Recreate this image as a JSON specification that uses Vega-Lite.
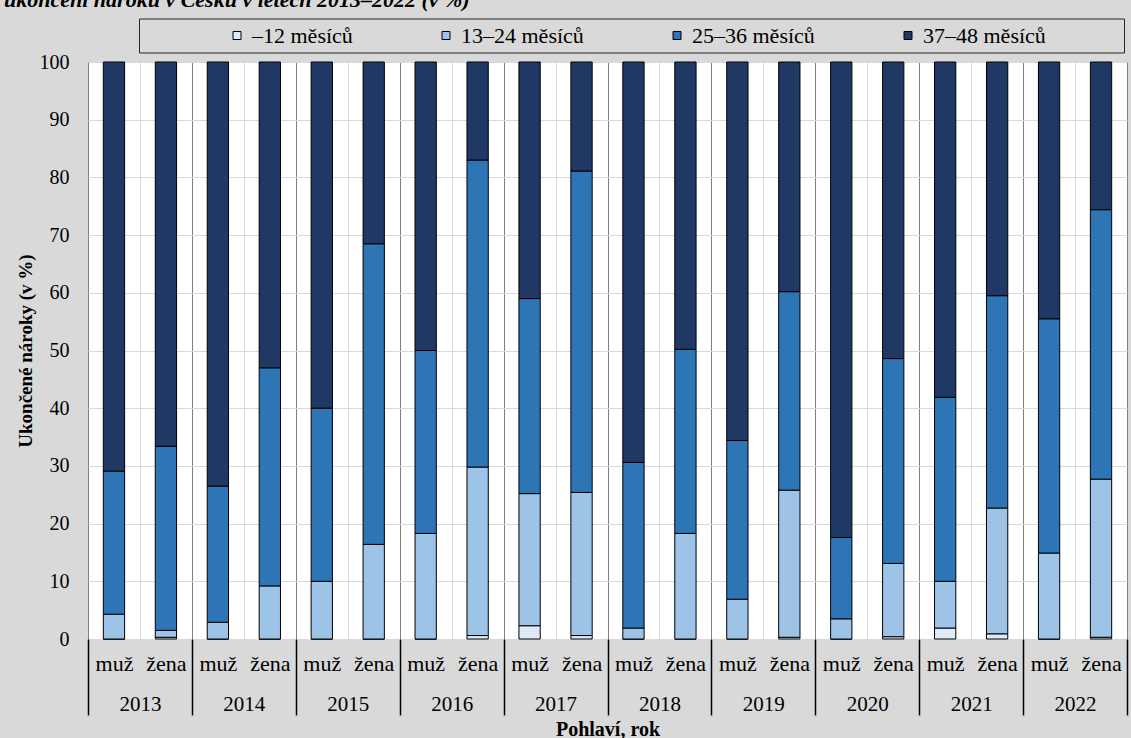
{
  "$schema": "https://vega.github.io/schema/vega-lite/v6.json",
  "width": 1131,
  "height": 738,
  "autosize": {"type": "fit", "contains": "padding"},
  "padding": {"left": 4, "top": -11, "right": 3, "bottom": -2},
  "background": "#d9d9d9",
  "title": {"text": "ukončení nároku v Česku v letech 2013–2022 (v %)", "anchor": "start", "fontSize": 22, "font": "Liberation Serif", "fontStyle": "italic", "fontWeight": "bold", "color": "black", "offset": 40, "dx": -12},
  "config": {
    "font": "Liberation Serif",
    "view": {"fill": "white", "stroke": "black", "strokeWidth": 1},
    "axis": {"labelColor": "black", "titleColor": "black", "labelFont": "Liberation Serif", "titleFont": "Liberation Serif"},
    "legend": {"labelFont": "Liberation Serif", "titleFont": "Liberation Serif"},
    "title": {"font": "Liberation Serif"}
  },
  "data": {"values": [
    {"year": "2013", "sex": "muž", "x": "2013 muž", "c": "–12 měsíců", "k": 1, "v": 0},
    {"year": "2013", "sex": "muž", "x": "2013 muž", "c": "13–24 měsíců", "k": 2, "v": 4.3},
    {"year": "2013", "sex": "muž", "x": "2013 muž", "c": "25–36 měsíců", "k": 3, "v": 24.8},
    {"year": "2013", "sex": "muž", "x": "2013 muž", "c": "37–48 měsíců", "k": 4, "v": 70.9},
    {"year": "2013", "sex": "žena", "x": "2013 žena", "c": "–12 měsíců", "k": 1, "v": 0.3},
    {"year": "2013", "sex": "žena", "x": "2013 žena", "c": "13–24 měsíců", "k": 2, "v": 1.2},
    {"year": "2013", "sex": "žena", "x": "2013 žena", "c": "25–36 měsíců", "k": 3, "v": 31.9},
    {"year": "2013", "sex": "žena", "x": "2013 žena", "c": "37–48 měsíců", "k": 4, "v": 66.6},
    {"year": "2014", "sex": "muž", "x": "2014 muž", "c": "–12 měsíců", "k": 1, "v": 0},
    {"year": "2014", "sex": "muž", "x": "2014 muž", "c": "13–24 měsíců", "k": 2, "v": 2.9},
    {"year": "2014", "sex": "muž", "x": "2014 muž", "c": "25–36 měsíců", "k": 3, "v": 23.6},
    {"year": "2014", "sex": "muž", "x": "2014 muž", "c": "37–48 měsíců", "k": 4, "v": 73.5},
    {"year": "2014", "sex": "žena", "x": "2014 žena", "c": "–12 měsíců", "k": 1, "v": 0},
    {"year": "2014", "sex": "žena", "x": "2014 žena", "c": "13–24 měsíců", "k": 2, "v": 9.2},
    {"year": "2014", "sex": "žena", "x": "2014 žena", "c": "25–36 měsíců", "k": 3, "v": 37.8},
    {"year": "2014", "sex": "žena", "x": "2014 žena", "c": "37–48 měsíců", "k": 4, "v": 53.0},
    {"year": "2015", "sex": "muž", "x": "2015 muž", "c": "–12 měsíců", "k": 1, "v": 0},
    {"year": "2015", "sex": "muž", "x": "2015 muž", "c": "13–24 měsíců", "k": 2, "v": 10.0},
    {"year": "2015", "sex": "muž", "x": "2015 muž", "c": "25–36 měsíců", "k": 3, "v": 30.0},
    {"year": "2015", "sex": "muž", "x": "2015 muž", "c": "37–48 měsíců", "k": 4, "v": 60.0},
    {"year": "2015", "sex": "žena", "x": "2015 žena", "c": "–12 měsíců", "k": 1, "v": 0},
    {"year": "2015", "sex": "žena", "x": "2015 žena", "c": "13–24 měsíců", "k": 2, "v": 16.4},
    {"year": "2015", "sex": "žena", "x": "2015 žena", "c": "25–36 měsíců", "k": 3, "v": 52.1},
    {"year": "2015", "sex": "žena", "x": "2015 žena", "c": "37–48 měsíců", "k": 4, "v": 31.5},
    {"year": "2016", "sex": "muž", "x": "2016 muž", "c": "–12 měsíců", "k": 1, "v": 0},
    {"year": "2016", "sex": "muž", "x": "2016 muž", "c": "13–24 měsíců", "k": 2, "v": 18.3},
    {"year": "2016", "sex": "muž", "x": "2016 muž", "c": "25–36 měsíců", "k": 3, "v": 31.7},
    {"year": "2016", "sex": "muž", "x": "2016 muž", "c": "37–48 měsíců", "k": 4, "v": 50.0},
    {"year": "2016", "sex": "žena", "x": "2016 žena", "c": "–12 měsíců", "k": 1, "v": 0.6},
    {"year": "2016", "sex": "žena", "x": "2016 žena", "c": "13–24 měsíců", "k": 2, "v": 29.2},
    {"year": "2016", "sex": "žena", "x": "2016 žena", "c": "25–36 měsíců", "k": 3, "v": 53.2},
    {"year": "2016", "sex": "žena", "x": "2016 žena", "c": "37–48 měsíců", "k": 4, "v": 17.0},
    {"year": "2017", "sex": "muž", "x": "2017 muž", "c": "–12 měsíců", "k": 1, "v": 2.3},
    {"year": "2017", "sex": "muž", "x": "2017 muž", "c": "13–24 měsíců", "k": 2, "v": 22.9},
    {"year": "2017", "sex": "muž", "x": "2017 muž", "c": "25–36 měsíců", "k": 3, "v": 33.8},
    {"year": "2017", "sex": "muž", "x": "2017 muž", "c": "37–48 měsíců", "k": 4, "v": 41.0},
    {"year": "2017", "sex": "žena", "x": "2017 žena", "c": "–12 měsíců", "k": 1, "v": 0.6},
    {"year": "2017", "sex": "žena", "x": "2017 žena", "c": "13–24 měsíců", "k": 2, "v": 24.8},
    {"year": "2017", "sex": "žena", "x": "2017 žena", "c": "25–36 měsíců", "k": 3, "v": 55.7},
    {"year": "2017", "sex": "žena", "x": "2017 žena", "c": "37–48 měsíců", "k": 4, "v": 18.9},
    {"year": "2018", "sex": "muž", "x": "2018 muž", "c": "–12 měsíců", "k": 1, "v": 0},
    {"year": "2018", "sex": "muž", "x": "2018 muž", "c": "13–24 měsíců", "k": 2, "v": 1.9},
    {"year": "2018", "sex": "muž", "x": "2018 muž", "c": "25–36 měsíců", "k": 3, "v": 28.7},
    {"year": "2018", "sex": "muž", "x": "2018 muž", "c": "37–48 měsíců", "k": 4, "v": 69.4},
    {"year": "2018", "sex": "žena", "x": "2018 žena", "c": "–12 měsíců", "k": 1, "v": 0},
    {"year": "2018", "sex": "žena", "x": "2018 žena", "c": "13–24 měsíců", "k": 2, "v": 18.3},
    {"year": "2018", "sex": "žena", "x": "2018 žena", "c": "25–36 měsíců", "k": 3, "v": 31.9},
    {"year": "2018", "sex": "žena", "x": "2018 žena", "c": "37–48 měsíců", "k": 4, "v": 49.8},
    {"year": "2019", "sex": "muž", "x": "2019 muž", "c": "–12 měsíců", "k": 1, "v": 0},
    {"year": "2019", "sex": "muž", "x": "2019 muž", "c": "13–24 měsíců", "k": 2, "v": 6.9},
    {"year": "2019", "sex": "muž", "x": "2019 muž", "c": "25–36 měsíců", "k": 3, "v": 27.5},
    {"year": "2019", "sex": "muž", "x": "2019 muž", "c": "37–48 měsíců", "k": 4, "v": 65.6},
    {"year": "2019", "sex": "žena", "x": "2019 žena", "c": "–12 měsíců", "k": 1, "v": 0.3},
    {"year": "2019", "sex": "žena", "x": "2019 žena", "c": "13–24 měsíců", "k": 2, "v": 25.5},
    {"year": "2019", "sex": "žena", "x": "2019 žena", "c": "25–36 měsíců", "k": 3, "v": 34.4},
    {"year": "2019", "sex": "žena", "x": "2019 žena", "c": "37–48 měsíců", "k": 4, "v": 39.8},
    {"year": "2020", "sex": "muž", "x": "2020 muž", "c": "–12 měsíců", "k": 1, "v": 0},
    {"year": "2020", "sex": "muž", "x": "2020 muž", "c": "13–24 měsíců", "k": 2, "v": 3.5},
    {"year": "2020", "sex": "muž", "x": "2020 muž", "c": "25–36 měsíců", "k": 3, "v": 14.1},
    {"year": "2020", "sex": "muž", "x": "2020 muž", "c": "37–48 měsíců", "k": 4, "v": 82.4},
    {"year": "2020", "sex": "žena", "x": "2020 žena", "c": "–12 měsíců", "k": 1, "v": 0.4},
    {"year": "2020", "sex": "žena", "x": "2020 žena", "c": "13–24 měsíců", "k": 2, "v": 12.7},
    {"year": "2020", "sex": "žena", "x": "2020 žena", "c": "25–36 měsíců", "k": 3, "v": 35.5},
    {"year": "2020", "sex": "žena", "x": "2020 žena", "c": "37–48 měsíců", "k": 4, "v": 51.4},
    {"year": "2021", "sex": "muž", "x": "2021 muž", "c": "–12 měsíců", "k": 1, "v": 1.9},
    {"year": "2021", "sex": "muž", "x": "2021 muž", "c": "13–24 měsíců", "k": 2, "v": 8.1},
    {"year": "2021", "sex": "muž", "x": "2021 muž", "c": "25–36 měsíců", "k": 3, "v": 31.9},
    {"year": "2021", "sex": "muž", "x": "2021 muž", "c": "37–48 měsíců", "k": 4, "v": 58.1},
    {"year": "2021", "sex": "žena", "x": "2021 žena", "c": "–12 měsíců", "k": 1, "v": 0.9},
    {"year": "2021", "sex": "žena", "x": "2021 žena", "c": "13–24 měsíců", "k": 2, "v": 21.8},
    {"year": "2021", "sex": "žena", "x": "2021 žena", "c": "25–36 měsíců", "k": 3, "v": 36.8},
    {"year": "2021", "sex": "žena", "x": "2021 žena", "c": "37–48 měsíců", "k": 4, "v": 40.5},
    {"year": "2022", "sex": "muž", "x": "2022 muž", "c": "–12 měsíců", "k": 1, "v": 0},
    {"year": "2022", "sex": "muž", "x": "2022 muž", "c": "13–24 měsíců", "k": 2, "v": 14.9},
    {"year": "2022", "sex": "muž", "x": "2022 muž", "c": "25–36 měsíců", "k": 3, "v": 40.6},
    {"year": "2022", "sex": "muž", "x": "2022 muž", "c": "37–48 měsíců", "k": 4, "v": 44.5},
    {"year": "2022", "sex": "žena", "x": "2022 žena", "c": "–12 měsíců", "k": 1, "v": 0.3},
    {"year": "2022", "sex": "žena", "x": "2022 žena", "c": "13–24 měsíců", "k": 2, "v": 27.4},
    {"year": "2022", "sex": "žena", "x": "2022 žena", "c": "25–36 měsíců", "k": 3, "v": 46.7},
    {"year": "2022", "sex": "žena", "x": "2022 žena", "c": "37–48 měsíců", "k": 4, "v": 25.6}
  ]},
  "layer": [
    {
      "mark": {"type": "bar", "width": {"band": 0.41}, "stroke": "black", "strokeWidth": 1},
      "encoding": {
        "x": {"field": "x", "type": "nominal", "sort": null,
              "scale": {"paddingInner": 0, "paddingOuter": 0},
              "axis": {"orient": "bottom", "title": null, "labelExpr": "split(datum.label, ' ')[1]", "labelAngle": 0, "labelFont": "Liberation Serif", "labelFontSize": 22, "labelPadding": 14, "ticks": false, "domain": false, "grid": true, "gridColor": "#d9d9d9", "gridWidth": 1, "tickBand": "extent"}},
        "y": {"field": "v", "type": "quantitative", "stack": "zero",
              "scale": {"domain": [0, 100]},
              "axis": {"title": "Ukončené nároky (v %)", "titleFont": "Liberation Serif", "titleFontSize": 19, "titleFontWeight": "bold", "titlePadding": 4, "labelFont": "Liberation Serif", "labelFontSize": 20, "labelPadding": 19, "ticks": false, "domain": false, "grid": true, "gridColor": "#d9d9d9", "gridWidth": 1, "values": [0, 10, 20, 30, 40, 50, 60, 70, 80, 90, 100]}},
        "color": {"field": "c", "type": "nominal",
                  "scale": {"domain": ["–12 měsíců", "13–24 měsíců", "25–36 měsíců", "37–48 měsíců"], "range": ["#deebf7", "#9dc3e6", "#2e75b6", "#1f3864"]},
                  "legend": {"orient": "none", "legendX": 51, "legendY": -43.5, "direction": "horizontal", "title": "\u00a0", "titleOrient": "left", "titleFont": "Liberation Serif", "titleFontSize": 10, "titlePadding": 81, "padding": 6, "fillColor": "#d9d9d9", "strokeColor": "#262626", "symbolType": "square", "symbolSize": 64, "symbolStrokeColor": "black", "symbolStrokeWidth": 1, "symbolOpacity": 1, "labelFont": "Liberation Serif", "labelFontSize": 22, "labelOffset": 4, "columnPadding": 82, "labelColor": "black", "labelLimit": 500,
                             "labelExpr": "datum.label + (datum.label == '37–48 měsíců' ? '\u00a0\u00a0\u00a0\u00a0\u00a0\u00a0\u00a0\u00a0\u00a0\u00a0\u00a0\u00a0\u00a0\u200b' : '')"}},
        "order": {"field": "k", "type": "quantitative"}
      }
    },
    {
      "mark": {"type": "bar", "opacity": 0},
      "encoding": {
        "x": {"field": "year", "type": "nominal", "sort": null,
              "scale": {"paddingInner": 0, "paddingOuter": 0},
              "axis": {"orient": "bottom", "title": "Pohlaví, rok", "titleFont": "Liberation Serif", "titleFontSize": 20, "titleFontWeight": "bold", "titlePadding": 4, "labelAngle": 0, "labelFont": "Liberation Serif", "labelFontSize": 21, "labelPadding": -22, "ticks": true, "tickSize": 76, "tickColor": "black", "tickWidth": 1.5, "tickBand": "extent", "domain": false, "grid": true, "gridColor": "#808080", "gridWidth": 1}}
      }
    }
  ],
  "resolve": {"scale": {"x": "independent"}, "axis": {"x": "independent"}}
}
